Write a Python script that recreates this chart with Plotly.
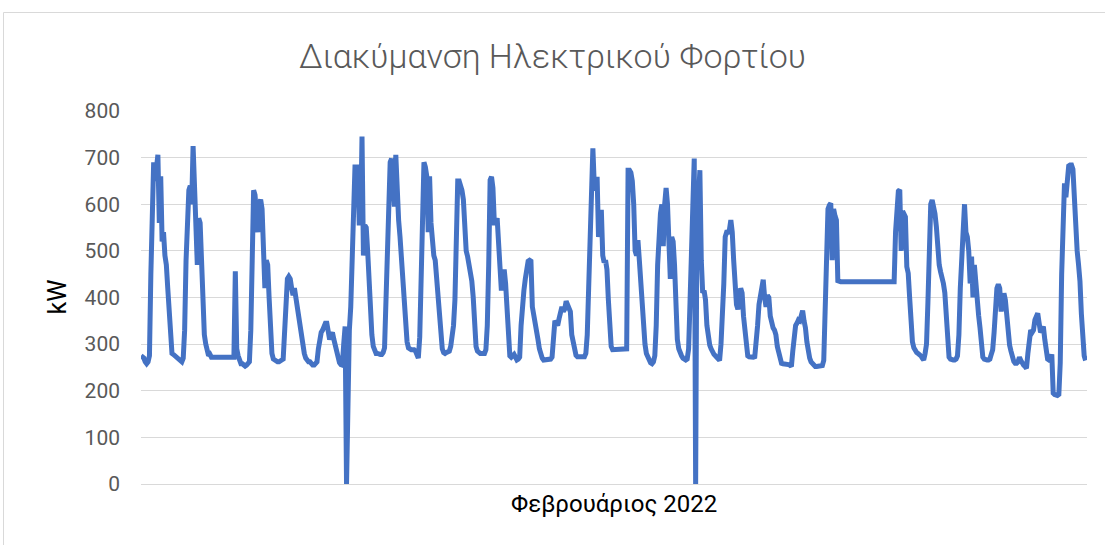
import pandas as pd
import plotly.graph_objects as go

# Hourly electric load (kW) for each day of February 2022
feb01 = [275, 272, 270, 262, 258, 262, 275, 450, 640, 690, 650, 700, 706, 560, 660, 520, 540, 490, 470, 420, 360, 300, 280, 278]
feb02 = [275, 272, 270, 268, 266, 262, 270, 330, 480, 590, 630, 640, 600, 725, 620, 560, 470, 570, 560, 480, 380, 320, 300, 280]
feb03 = [275, 278, 272, 272, 272, 272, 272, 272, 272, 272, 272, 272, 272, 272, 272, 272, 272, 272, 272, 456, 290, 275, 262, 258]
feb04 = [258, 255, 253, 255, 258, 262, 330, 470, 630, 620, 560, 540, 600, 610, 590, 500, 420, 480, 470, 400, 330, 280, 268, 265]
feb05 = [263, 262, 262, 263, 266, 268, 330, 430, 440, 445, 440, 420, 405, 420, 400, 370, 355, 340, 320, 300, 280, 270, 265, 262]
feb06 = [262, 258, 255, 255, 257, 262, 290, 320, 325, 330, 340, 345, 345, 320, 310, 320, 325, 310, 295, 280, 268, 260, 256, 255]
feb07 = [300, 338, 0, 260, 330, 380, 470, 600, 680, 680, 680, 560, 560, 745, 490, 555, 550, 500, 440, 360, 320, 295, 285, 280]
feb08 = [280, 278, 278, 278, 282, 292, 390, 560, 670, 690, 698, 640, 595, 706, 600, 566, 530, 480, 440, 395, 340, 305, 292, 288]
feb09 = [288, 288, 288, 285, 278, 270, 315, 450, 580, 690, 680, 660, 540, 660, 560, 500, 490, 480, 440, 400, 340, 300, 290, 282]
feb10 = [280, 282, 283, 285, 295, 315, 340, 395, 560, 650, 650, 640, 630, 610, 540, 500, 488, 470, 445, 435, 400, 335, 295, 285]
feb11 = [282, 280, 280, 280, 280, 288, 340, 470, 652, 659, 635, 560, 560, 570, 490, 466, 415, 440, 460, 430, 365, 305, 275, 272]
feb12 = [275, 278, 272, 266, 268, 272, 340, 395, 415, 440, 466, 478, 480, 478, 380, 365, 350, 330, 310, 290, 278, 270, 266, 266]
feb13 = [266, 266, 266, 268, 272, 305, 350, 345, 340, 355, 372, 380, 370, 375, 392, 385, 380, 370, 320, 300, 282, 276, 273, 273]
feb14 = [273, 273, 273, 273, 280, 320, 420, 560, 660, 720, 640, 630, 659, 530, 560, 588, 490, 475, 480, 460, 395, 315, 295, 288]
feb15 = [288, 290, 290, 290, 290, 290, 290, 290, 290, 290, 673, 673, 668, 650, 600, 500, 490, 523, 480, 430, 380, 335, 300, 280]
feb16 = [272, 265, 260, 258, 262, 275, 340, 470, 540, 580, 600, 510, 600, 635, 600, 500, 440, 530, 520, 470, 380, 310, 290, 280]
feb17 = [275, 270, 268, 266, 268, 290, 390, 530, 640, 698, 0, 640, 610, 673, 480, 410, 415, 395, 340, 315, 298, 290, 282, 278]
feb18 = [275, 270, 266, 265, 300, 350, 430, 530, 540, 540, 545, 566, 540, 480, 400, 385, 375, 390, 420, 410, 360, 320, 285, 275]
feb19 = [273, 272, 272, 272, 273, 300, 340, 385, 410, 425, 438, 400, 380, 405, 400, 360, 345, 335, 330, 320, 295, 278, 265, 259]
feb20 = [258, 258, 258, 258, 256, 255, 252, 285, 330, 340, 345, 352, 350, 366, 372, 350, 335, 305, 280, 270, 262, 258, 255, 252]
feb21 = [252, 252, 252, 252, 254, 265, 400, 566, 590, 598, 602, 480, 590, 575, 566, 436, 434, 434, 434, 434, 434, 434, 434, 434]
feb22 = [434, 434, 434, 434, 434, 434, 434, 434, 434, 434, 434, 434, 434, 434, 434, 434, 434, 434, 434, 434, 434, 434, 434, 434]
feb23 = [434, 434, 434, 434, 434, 434, 434, 434, 540, 610, 628, 631, 500, 585, 580, 573, 466, 452, 400, 340, 305, 292, 285, 282]
feb24 = [280, 278, 275, 270, 266, 280, 300, 390, 560, 600, 609, 598, 580, 552, 500, 470, 455, 445, 430, 410, 360, 300, 272, 268]
feb25 = [266, 266, 266, 268, 275, 320, 420, 490, 535, 600, 540, 530, 500, 430, 488, 400, 470, 420, 375, 362, 335, 285, 272, 268]
feb26 = [266, 266, 266, 268, 278, 288, 325, 380, 420, 428, 420, 370, 400, 409, 395, 360, 323, 298, 285, 270, 263, 259, 259, 262]
feb27 = [272, 265, 258, 255, 252, 248, 280, 315, 330, 325, 330, 352, 360, 366, 345, 325, 330, 338, 310, 278, 268, 266, 268, 278]
feb28 = [195, 192, 190, 190, 192, 260, 450, 580, 645, 615, 650, 682, 684, 684, 675, 610, 540, 500, 470, 435, 365, 315, 275, 265]

days = [feb01, feb02, feb03, feb04, feb05, feb06, feb07, feb08, feb09, feb10,
        feb11, feb12, feb13, feb14, feb15, feb16, feb17, feb18, feb19, feb20,
        feb21, feb22, feb23, feb24, feb25, feb26, feb27, feb28]
load_kw = [v for day in days for v in day]
timestamps = pd.date_range("2022-02-01 00:00", periods=len(load_kw), freq="h")

y_ticks = [0, 100, 200, 300, 400, 500, 600, 700, 800]
chart_title = "Διακύμανση Ηλεκτρικού Φορτίου"
x_title = "Φεβρουάριος 2022"
y_title = "kW"

FONT = "Roboto"
GRID = "#d9d9d9"

fig = go.Figure()
fig.add_trace(go.Scatter(
    x=timestamps, y=load_kw, mode="lines",
    line=dict(color="#4472C4", width=5),
    hoverinfo="x+y", showlegend=False,
))

fig.update_layout(
    width=1105, height=545,
    margin=dict(l=141, r=18, t=111, b=61),
    paper_bgcolor="white", plot_bgcolor="white",
    font=dict(family=FONT, color="#595959"),
    title=dict(text=chart_title, x=0.5, xref="container", xanchor="center",
               y=1 - 56 / 545, yref="container", yanchor="middle",
               font=dict(family=FONT, size=34, color="#595959", weight=300)),
    xaxis=dict(
        type="date",
        range=["2022-02-01 00:00", "2022-03-01 00:00"],
        showticklabels=False, showgrid=False, zeroline=False, showline=False,
        ticks="",
    ),
    yaxis=dict(
        range=[0, 800], tickvals=y_ticks, ticktext=[str(v) for v in y_ticks],
        showgrid=True, gridcolor=GRID, gridwidth=1,
        zeroline=True, zerolinecolor=GRID, zerolinewidth=1,
        showline=False, ticks="", ticklabelstandoff=20,
        tickfont=dict(family=FONT, size=21, color="#595959"),
    ),
    annotations=[
        dict(text=y_title, x=(57 - 141) / 946, y=0.5, xref="paper", yref="paper",
             xanchor="center", yanchor="middle", textangle=-90, showarrow=False,
             font=dict(family=FONT, size=25, color="#000000")),
        dict(text=x_title, x=0.5, y=(484 - 504) / 373, xref="paper", yref="paper",
             xanchor="center", yanchor="middle", showarrow=False,
             font=dict(family=FONT, size=24, color="#000000")),
    ],
    shapes=[
        # chart-area frame (left and top edges fall inside the page)
        dict(type="rect", xref="paper", yref="paper",
             x0=(3.5 - 141) / 946, x1=(1112 - 141) / 946,
             y0=(484 - 560) / 373, y1=(484 - 12.5) / 373,
             line=dict(color=GRID, width=1), fillcolor="rgba(0,0,0,0)",
             layer="below"),
    ],
)

fig.write_html("out.html")
